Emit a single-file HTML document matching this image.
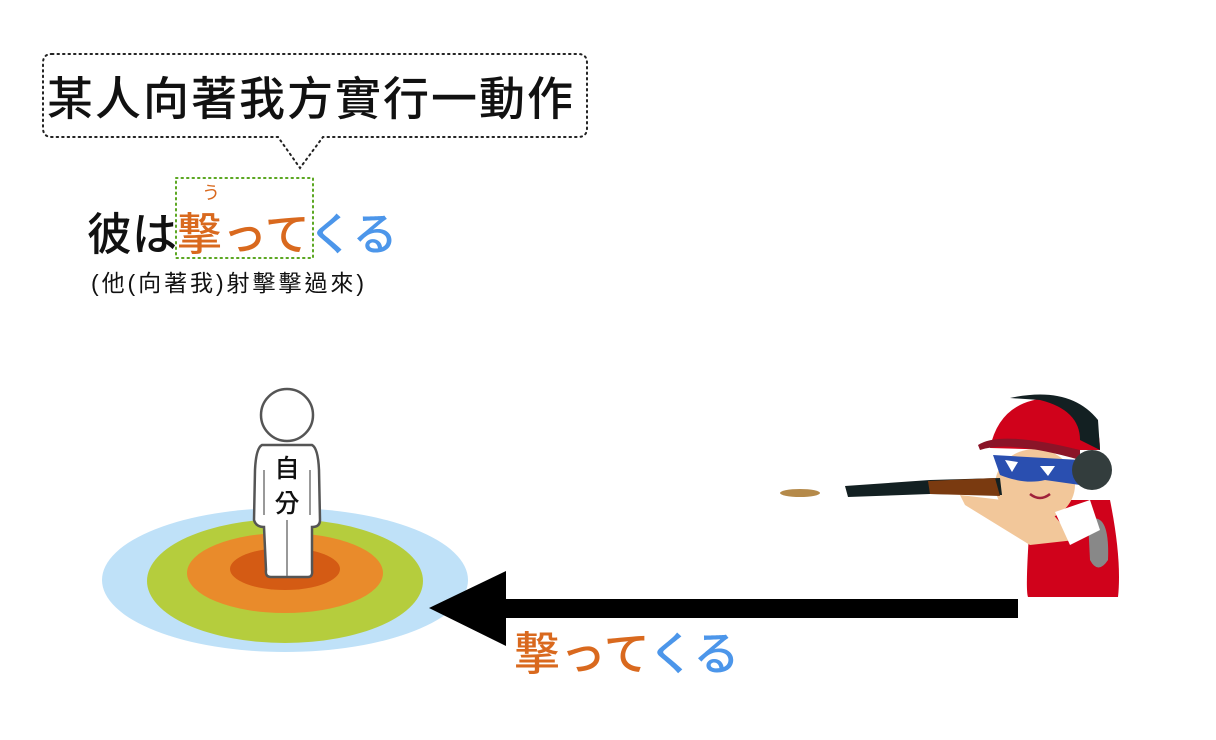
<!DOCTYPE html>
<html><head><meta charset="utf-8"><style>
body{margin:0;background:#fff;width:1216px;height:740px;overflow:hidden;}
svg{display:block}
text{font-family:"Liberation Sans","Noto Sans CJK TC","Noto Sans CJK JP",sans-serif;}
</style></head><body>
<svg width="1216" height="740" viewBox="0 0 1216 740">
<path d="M52,54 H578 Q587,54 587,63 V128 Q587,137 578,137 H323 L300,168 L278,137 H52 Q43,137 43,128 V63 Q43,54 52,54 Z" fill="none" stroke="#222" stroke-width="2" stroke-dasharray="1.5 4" stroke-linecap="round"/>
<text x="47" y="115" font-size="46" letter-spacing="2" fill="#111" font-weight="500">某人向著我方實行一動作</text>
<rect x="176" y="178" width="137" height="80" fill="none" stroke="#5aa620" stroke-width="2" stroke-dasharray="1.5 4" stroke-linecap="round"/>
<text x="202" y="199" font-size="18" fill="#d9691e">う</text>
<text x="87" y="250" font-size="45" fill="#111" font-weight="500">彼は<tspan fill="#d9691e">撃って</tspan><tspan fill="#4c96ea">くる</tspan></text>
<text x="91" y="291" font-size="23" fill="#111" textLength="273" lengthAdjust="spacing">(他(向著我)射擊擊過來)</text>
<ellipse cx="285" cy="580" rx="183" ry="72" fill="#bfe1f8"/>
<ellipse cx="285" cy="581" rx="138" ry="62" fill="#b5cd3d"/>
<ellipse cx="285" cy="573" rx="98" ry="40" fill="#e98b2b"/>
<ellipse cx="285" cy="569" rx="55" ry="21" fill="#d45b14"/>
<path d="M262,445 Q256,448 255,470 L254,520 Q256,527 264,527 L266,570 Q265,577 271,577 L308,577 Q313,577 312,570 L312,527 Q320,527 320,520 L319,470 Q318,448 312,445 Z" fill="#fff" stroke="#555" stroke-width="2.5"/>
<line x1="287" y1="520" x2="287" y2="576" stroke="#777" stroke-width="1.5"/>
<line x1="264" y1="470" x2="264" y2="515" stroke="#777" stroke-width="1.5"/>
<line x1="310" y1="470" x2="310" y2="515" stroke="#777" stroke-width="1.5"/>
<circle cx="287" cy="415" r="26" fill="#fff" stroke="#555" stroke-width="2.5"/>
<text x="287" y="477" font-size="25" text-anchor="middle" fill="#111" font-weight="500">自</text>
<text x="287" y="512" font-size="25" text-anchor="middle" fill="#111" font-weight="500">分</text>
<rect x="500" y="599" width="518" height="19" fill="#000"/>
<polygon points="429,608 506,571 506,646" fill="#000"/>
<text x="514" y="670" font-size="46" fill="#d9691e" font-weight="500">撃って<tspan fill="#4c96ea">くる</tspan></text>
<ellipse cx="800" cy="493" rx="20" ry="4" fill="#b58a4a"/>
<path d="M1030,520 Q1025,590 1028,597 L1118,597 Q1122,560 1110,500 L1040,500 Z" fill="#d0021b"/>
<path d="M1088,520 Q1110,510 1108,560 Q1098,575 1090,560 Z" fill="#888"/>
<ellipse cx="1035" cy="485" rx="40" ry="36" fill="#f2c79a"/>
<path d="M960,495 L1045,505 L1075,540 L1030,545 L965,505 Z" fill="#f2c79a"/>
<path d="M1055,512 L1090,500 L1100,530 L1070,545 Z" fill="#fff"/>
<polygon points="845,486 930,480 1000,478 1002,495 930,494 848,497" fill="#132022"/>
<polygon points="928,481 995,478 1000,496 930,494" fill="#7a3a10"/>
<path d="M990,448 Q1000,400 1050,398 Q1100,400 1100,450 L1060,450 Z" fill="#d0021b"/>
<path d="M1010,398 Q1070,385 1098,420 L1100,450 L1080,440 Q1080,410 1040,400 Z" fill="#132022"/>
<path d="M978,445 Q1000,430 1080,450 L1080,460 Q1010,440 980,450 Z" fill="#8b1428"/>
<path d="M993,455 L1080,460 L1080,485 L1045,480 Q1025,485 1000,475 Z" fill="#2a4fb0"/>
<path d="M1005,460 L1018,462 L1012,472 Z M1040,466 L1055,466 L1048,476 Z" fill="#fff"/>
<circle cx="1092" cy="470" r="20" fill="#333d3d"/>
<path d="M1030,494 Q1040,502 1050,494" fill="none" stroke="#a0223a" stroke-width="2.5"/>
</svg>
</body></html>
